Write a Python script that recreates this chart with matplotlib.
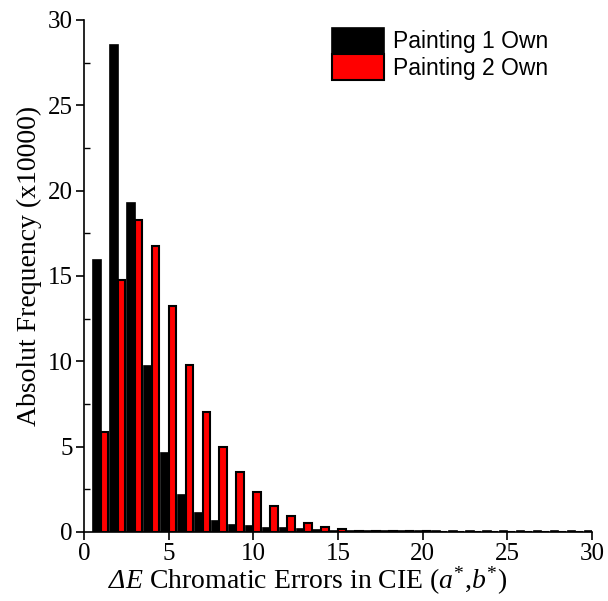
import matplotlib
matplotlib.use("Agg")
import matplotlib.pyplot as plt
import numpy as np
from matplotlib.ticker import MultipleLocator

plt.rcParams["mathtext.fontset"] = "custom"
plt.rcParams["mathtext.it"] = "Liberation Serif:italic"
plt.rcParams["mathtext.cal"] = "Liberation Serif:italic"
plt.rcParams["mathtext.rm"] = "Liberation Serif"
plt.rcParams["mathtext.bf"] = "Liberation Serif:bold"

bins = list(range(1, 31))
painting1 = [15.9, 28.5, 19.25, 9.72, 4.62, 2.18, 1.11, 0.64, 0.41, 0.32, 0.24, 0.2, 0.15, 0.11, 0.08,
             0.07, 0.06, 0.06, 0.05, 0.05, 0.05, 0.04, 0.04, 0.04, 0.04, 0.03, 0.03, 0.03, 0.03, 0.03]
painting2 = [5.87, 14.76, 18.29, 16.73, 13.25, 9.78, 7.0, 4.95, 3.48, 2.36, 1.53, 0.93, 0.51, 0.29, 0.15,
             0.08, 0.05, 0.04, 0.03, 0.03, 0.02, 0.02, 0.02, 0.02, 0.02, 0.02, 0.02, 0.02, 0.02, 0.02]
labels = ["Painting 1 Own", "Painting 2 Own"]

fig = plt.figure(figsize=(6.08, 6.01), dpi=100)
ax = fig.add_axes([0.138, 0.115, 0.836, 0.852])

x = np.array(bins, dtype=float)
w = 0.45
ax.bar(x - w / 2, painting1, width=w, color="black", edgecolor="black", linewidth=1.2, label=labels[0])
ax.bar(x + w / 2, painting2, width=w, color="#ff0000", edgecolor="black", linewidth=1.5, label=labels[1])

ax.set_xlim(0, 30)
ax.set_ylim(0, 30)
ax.spines["top"].set_visible(False)
ax.spines["right"].set_visible(False)
for s in ("left", "bottom"):
    ax.spines[s].set_linewidth(1.2)

ax.xaxis.set_major_locator(MultipleLocator(5))
ax.yaxis.set_major_locator(MultipleLocator(5))
ax.yaxis.set_minor_locator(MultipleLocator(2.5))
ax.tick_params(axis="both", which="major", direction="out", length=6, width=1.2,
               labelsize=18, labelfontfamily="Liberation Serif", pad=2)
ax.tick_params(axis="y", which="minor", direction="in", length=4, width=1.0)

ax.set_ylabel("Absolut Frequency (x10000)", fontsize=20, family="Liberation Serif", labelpad=4)
ax.yaxis.set_label_coords(-0.082, 0.52)
ax.set_xlabel(r"$\mathcal{\Delta}\mathit{E}$ Chromatic Errors in CIE ($a^{*}$,$b^{*}$)",
              fontsize=20, family="Liberation Serif", labelpad=1)
ax.xaxis.set_label_coords(0.44, -0.065)

leg = ax.legend(loc="upper right", bbox_to_anchor=(0.95, 1.02), frameon=False,
                prop={"family": "Liberation Sans", "size": 16.5},
                handlelength=2.25, handleheight=1.35, handletextpad=0.4, labelspacing=0.02,
                borderpad=0.3)

fig.savefig("out.png", dpi=100)
